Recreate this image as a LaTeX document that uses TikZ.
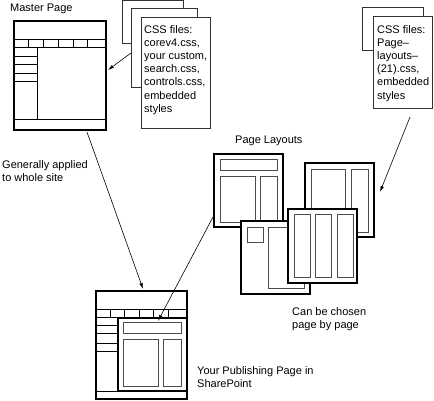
\documentclass[tikz,border=0pt]{standalone}
\usepackage{fontspec}
\setmainfont{Liberation Sans}
\usetikzlibrary{arrows.meta}
\tikzset{
	pagebox/.style = {draw, line width = 1.4pt, fill = white},
	sheetbox/.style = {draw = black!80, line width = 0.8pt, fill = white},
	partbox/.style = {draw = black!70, line width = 0.9pt},
	cellline/.style = {line width = 0.7pt},
	txt/.style = {inner sep = 0pt, align = left, font = \fontsize{11}{13.2}\selectfont},
	link/.style = {-{Latex[length = 6pt, width = 3.5pt]}, line width = 0.6pt}
}

\begin{document}
\begin{tikzpicture}[x = 1pt, y = -1pt]
	\useasboundingbox (0, 0) rectangle (434, 400);

	% master page
	\node[txt, anchor = base west] (mptitle) at (10, 11) {Master Page};
	\draw[pagebox] (14, 21) rectangle (106, 130);
	\draw[cellline] (14, 39) -- (106, 39);
	\draw[cellline] (14, 47) -- (106, 47);
	\foreach \x in {28, 43, 58, 73, 87} {
		\draw[cellline] (\x, 39) -- (\x, 47);
	}
	\draw[cellline] (37, 47) -- (37, 119);
	\foreach \y in {56, 64, 73, 81} {
		\draw[cellline] (14, \y) -- (37, \y);
	}
	\draw[cellline] (14, 119) -- (106, 119);

	% css files of the master page
	\draw[sheetbox] (122, 0.5) rectangle (183, 43);
	\draw[sheetbox] (131, 8) rectangle (197, 87);
	\draw[sheetbox] (141, 17) rectangle (210, 128);
	\node[txt, anchor = north west] (cssmaster) at (144, 25)
		{CSS files:\\corev4.css,\\your custom,\\search.css,\\controls.css,\\embedded\\styles};

	\node[txt, anchor = north west] (whole) at (2, 160) {Generally applied\\to whole site};

	% css files of the layouts
	\draw[sheetbox] (362, 7) rectangle (423, 50);
	\draw[sheetbox] (373, 16) rectangle (432, 108);
	\node[txt, anchor = north west] (csslayout) at (377, 25)
		{CSS files:\\Page--\\layouts--\\(21).css,\\embedded\\styles};

	% page layouts
	\node[txt, anchor = base west] (pltitle) at (235, 143) {Page Layouts};
	\draw[pagebox] (214, 154) rectangle (283, 227);
	\draw[partbox] (220, 159) rectangle (277, 170);
	\draw[partbox] (220, 176) rectangle (255, 222);
	\draw[partbox] (260, 176) rectangle (277, 222);

	\draw[pagebox] (305, 163) rectangle (374, 237);
	\draw[partbox] (311, 169) rectangle (345, 231);
	\draw[partbox] (351, 169) rectangle (368, 232);

	\draw[pagebox] (241, 221) rectangle (310, 294);
	\draw[partbox] (247, 227) rectangle (263, 242);
	\draw[partbox] (268, 227) rectangle (304, 288);

	\draw[pagebox] (288, 209) rectangle (357, 283);
	\foreach \x in {294, 315, 337} {
		\draw[partbox] (\x, 214) rectangle (\x + 16, 277);
	}
	\node[txt, anchor = north west] (chosen) at (292, 307) {Can be chosen\\page by page};

	% publishing page
	\draw[pagebox] (96, 291) rectangle (187, 399);
	\draw[cellline] (96, 309) -- (187, 309);
	\draw[cellline] (96, 317) -- (187, 317);
	\foreach \x in {110, 124, 139, 153, 168} {
		\draw[cellline] (\x, 309) -- (\x, 317);
	}
	\foreach \y in {325, 333, 343, 351} {
		\draw[cellline] (96, \y) -- (118, \y);
	}
	\draw[cellline] (96, 391) -- (187, 391);
	\draw[pagebox] (118, 318) rectangle (187, 391);
	\draw[partbox] (123, 322) rectangle (181, 333);
	\draw[partbox] (123, 339) rectangle (158, 386);
	\draw[partbox] (163, 339) rectangle (181, 386);
	\node[txt, anchor = north west] (publish) at (197, 366) {Your Publishing Page in\\SharePoint};

	% connectors
	\coordinate (cssA) at (131, 53);
	\coordinate (mpR) at (108, 70);
	\coordinate (mpB) at (87, 132);
	\coordinate (pubT) at (143, 289);
	\coordinate (cssB) at (410, 117);
	\coordinate (plR) at (380, 192);
	\coordinate (plL) at (213, 217);
	\coordinate (pubIn) at (158, 321);
	\draw[link] (cssA) -- (mpR);
	\draw[link] (mpB) -- (pubT);
	\draw[link] (cssB) -- (plR);
	\draw[link] (plL) -- (pubIn);
\end{tikzpicture}
\end{document}
